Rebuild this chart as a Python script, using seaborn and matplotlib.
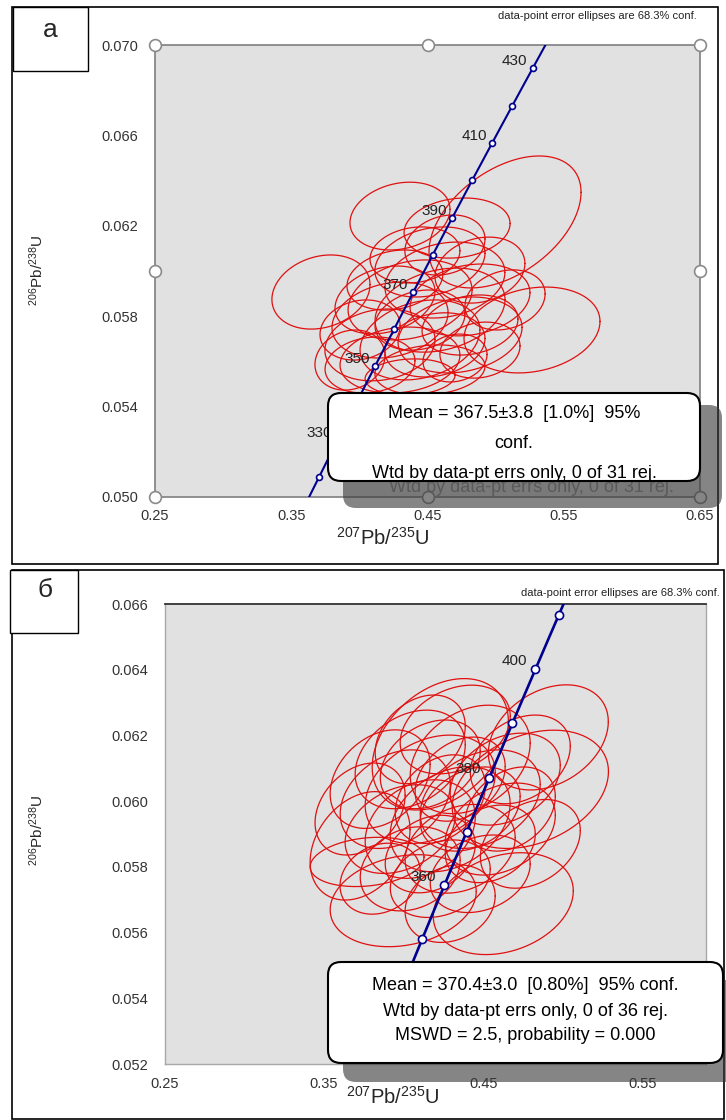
"""
Concordia plots (U-Pb) for two zircon samples, panels а and б.
"""
import numpy as np
import pandas as pd
import matplotlib
matplotlib.use("Agg")
import matplotlib.pyplot as plt
from matplotlib.patches import FancyBboxPatch, Rectangle
from matplotlib.ticker import FormatStrFormatter
import seaborn as sns

sns.set_style("white")
plt.rcParams["font.family"] = ["Liberation Sans", "DejaVu Sans"]

W, H = 726, 1120
RED = "#e01010"
NAVY = "#00008f"
BG = "#e1e1e1"

# decay constants, 1/yr
L238 = 1.55125e-10
L235 = 9.8485e-10

# ---------- panel а ----------
a_ages = [320, 330, 340, 350, 360, 370, 380, 390, 400, 410, 420, 430, 440]
a_age_labels = [330, 350, 370, 390, 410, 430]
a_xticks = [0.25, 0.35, 0.45, 0.55, 0.65]
a_yticks = [0.050, 0.054, 0.058, 0.062, 0.066, 0.070]
a_cx = [0.5069, 0.3718, 0.4298, 0.5267, 0.4717, 0.4518, 0.4628, 0.4372, 0.4225, 0.4592,
        0.4812, 0.4151, 0.4445, 0.4739, 0.4298, 0.4078, 0.4702, 0.4518, 0.4261, 0.4885,
        0.4005, 0.4408, 0.4812, 0.4188, 0.4555, 0.4372, 0.5069, 0.3931, 0.4628, 0.4885, 0.4445]
a_cy = [0.06217, 0.05907, 0.06243, 0.05739, 0.06190, 0.06040, 0.05960, 0.05872, 0.05783, 0.05827,
        0.05872, 0.05673, 0.05695, 0.05717, 0.05606, 0.05584, 0.05615, 0.05562, 0.05960, 0.06004,
        0.05739, 0.06071, 0.05761, 0.05872, 0.05673, 0.05531, 0.05872, 0.05606, 0.06115, 0.05650, 0.05783]
a_sx = [0.0558, 0.0360, 0.0367, 0.0499, 0.0389, 0.0404, 0.0440, 0.0455, 0.0426, 0.0477,
        0.0440, 0.0404, 0.0440, 0.0455, 0.0440, 0.0330, 0.0235, 0.0404, 0.0352, 0.0330,
        0.0294, 0.0330, 0.0352, 0.0367, 0.0367, 0.0330, 0.0294, 0.0257, 0.0294, 0.0294, 0.0330]
a_sy = [0.00292, 0.00164, 0.00150, 0.00190, 0.00133, 0.00155, 0.00168, 0.00177, 0.00168, 0.00186,
        0.00159, 0.00159, 0.00177, 0.00168, 0.00146, 0.00124, 0.00106, 0.00111, 0.00133, 0.00146,
        0.00133, 0.00124, 0.00133, 0.00150, 0.00142, 0.00080, 0.00133, 0.00133, 0.00133, 0.00124, 0.00133]
a_rho = [0.45, 0.2, 0.2, 0.2, 0.15, 0.25, 0.2, 0.25, 0.2, 0.25,
         0.2, 0.15, 0.25, 0.2, 0.15, 0.15, 0.15, 0.15, 0.2, 0.2,
         0.15, 0.15, 0.2, 0.25, 0.2, 0.1, 0.2, 0.15, 0.2, 0.15, 0.2]
a_box = ["Mean = 367.5±3.8  [1.0%]  95%", "conf.", "Wtd by data-pt errs only, 0 of 31 rej."]

# ---------- panel б ----------
b_ages = [330, 340, 350, 360, 370, 380, 390, 400, 410, 420]
b_age_labels = [360, 380, 400]
b_xticks = [0.25, 0.35, 0.45, 0.55]
b_yticks = [0.052, 0.054, 0.056, 0.058, 0.060, 0.062, 0.064, 0.066]
b_cx = [0.4230, 0.4909, 0.4796, 0.3726, 0.3997, 0.4626, 0.3770, 0.4041, 0.4418, 0.4167,
        0.4481, 0.3947, 0.4292, 0.4104, 0.4607, 0.3852, 0.4355, 0.4041, 0.4230, 0.4481,
        0.4733, 0.4324, 0.4638, 0.4167, 0.3978, 0.4418, 0.4230, 0.3726, 0.4796, 0.4292,
        0.4104, 0.4544, 0.3852, 0.4670, 0.4355, 0.4167]
b_cy = [0.06173, 0.06194, 0.06036, 0.05864, 0.05697, 0.05688, 0.05815, 0.06127, 0.06127, 0.06036,
        0.06006, 0.06006, 0.05945, 0.05915, 0.05915, 0.06067, 0.05855, 0.05794, 0.05764, 0.05779,
        0.06127, 0.06218, 0.06067, 0.06112, 0.05915, 0.05976, 0.06006, 0.05976, 0.05870, 0.05688,
        0.06188, 0.05870, 0.05764, 0.05976, 0.06067, 0.05839]
b_sx = [0.0428, 0.0377, 0.0491, 0.0314, 0.0459, 0.0440, 0.0358, 0.0346, 0.0377, 0.0409,
        0.0377, 0.0346, 0.0377, 0.0346, 0.0346, 0.0314, 0.0346, 0.0314, 0.0314, 0.0314,
        0.0314, 0.0346, 0.0346, 0.0314, 0.0346, 0.0314, 0.0283, 0.0283, 0.0314, 0.0283,
        0.0283, 0.0283, 0.0252, 0.0283, 0.0283, 0.0283]
b_sy = [0.00200, 0.00160, 0.00180, 0.00165, 0.00140, 0.00155, 0.00075, 0.00150, 0.00165, 0.00165,
        0.00150, 0.00150, 0.00160, 0.00150, 0.00140, 0.00150, 0.00135, 0.00128, 0.00118, 0.00118,
        0.00135, 0.00135, 0.00140, 0.00135, 0.00135, 0.00128, 0.00135, 0.00140, 0.00135, 0.00118,
        0.00135, 0.00118, 0.00108, 0.00128, 0.00128, 0.00118]
b_rho = [0.35, 0.3, 0.3, 0.3, 0.2, 0.25, 0.2, 0.3, 0.3, 0.3,
         0.3, 0.3, 0.3, 0.25, 0.3, 0.3, 0.25, 0.2, 0.25, 0.25,
         0.3, 0.3, 0.3, 0.3, 0.3, 0.3, 0.3, 0.3, 0.3, 0.2,
         0.3, 0.25, 0.2, 0.3, 0.3, 0.25]
b_box = ["Mean = 370.4±3.0  [0.80%]  95% conf.", "Wtd by data-pt errs only, 0 of 36 rej.",
         "MSWD = 2.5, probability = 0.000"]

XLAB = r"$\mathregular{^{207}Pb/^{235}U}$"
YLAB = r"$\mathregular{^{206}Pb/^{238}U}$"

fig = plt.figure(figsize=(W / 100, H / 100), dpi=100)
fig.patch.set_facecolor("white")
IN = fig.dpi_scale_trans


def pin(x, y):
    # image pixel -> inches from bottom-left
    return x / 100, (H - y) / 100


def ellipse_frame(cx, cy, sx, sy, rho):
    t = np.linspace(0, 2 * np.pi, 181)
    parts = []
    for i, (x0, y0, a, b, r) in enumerate(zip(cx, cy, sx, sy, rho)):
        ex = x0 + a * np.cos(t)
        ey = y0 + b * (r * np.cos(t) + np.sqrt(1 - r * r) * np.sin(t))
        parts.append(pd.DataFrame({"x": ex, "y": ey, "id": i}))
    return pd.concat(parts, ignore_index=True)


def concordia(ages_ma):
    t = np.asarray(ages_ma, dtype=float) * 1e6
    return np.exp(L235 * t) - 1, np.exp(L238 * t) - 1


def draw_panel(ax, cx, cy, sx, sy, rho, ages, age_labels, xticks, yticks,
               xlim, ylim, lw_c, ms, lab_off):
    ax.set_facecolor(BG)
    df = ellipse_frame(cx, cy, sx, sy, rho)
    sns.lineplot(data=df, x="x", y="y", units="id", estimator=None, sort=False,
                 color=RED, lw=0.9, ax=ax, legend=False)
    curve_x, curve_y = concordia(np.linspace(300, 470, 200))
    sns.lineplot(x=curve_x, y=curve_y, sort=False, estimator=None, color=NAVY,
                 lw=lw_c, ax=ax, zorder=3)
    mx, my = concordia(ages)
    sns.scatterplot(x=mx, y=my, s=ms, color="white", edgecolor=NAVY, linewidth=1.2,
                    ax=ax, zorder=4, clip_on=True)
    lx, ly = concordia(age_labels)
    for age, x, y in zip(age_labels, lx, ly):
        ax.annotate(str(age), (x, y), xytext=lab_off, textcoords="offset points",
                    ha="right", va="center", fontsize=11, color="#222222",
                    annotation_clip=True, zorder=5)
    ax.set_xlim(*xlim)
    ax.set_ylim(*ylim)
    ax.set_xticks(xticks)
    ax.set_yticks(yticks)
    ax.set_xticks([v + 0.05 for v in xticks if v + 0.05 < xlim[1]], minor=True)
    ax.xaxis.set_major_formatter(FormatStrFormatter("%.2f"))
    ax.yaxis.set_major_formatter(FormatStrFormatter("%.3f"))
    ax.set_xlabel("")
    ax.set_ylabel("")
    ax.tick_params(which="both", direction="in", length=3, width=0.8, color="#888888",
                   labelsize=10.5, labelcolor="#333333")
    ax.tick_params(axis="y", pad=12)
    ax.tick_params(axis="x", pad=9)


# panel а axes
ax_a = fig.add_axes([155 / W, 1 - 497 / H, 545 / W, 452 / H])
draw_panel(ax_a, a_cx, a_cy, a_sx, a_sy, a_rho, a_ages, a_age_labels, a_xticks, a_yticks,
           (0.25, 0.65), (0.050, 0.070), 1.5, 18, (-4, 5))
ax_a.set_yticks(np.arange(0.050, 0.0701, 0.002), minor=True)
for s in ax_a.spines.values():
    s.set_color("#7f7f7f")
    s.set_linewidth(1.2)
# selection handles of the plot area
for hx, hy in [(0, 0), (0.5, 0), (1, 0), (0, 0.5), (1, 0.5), (0, 1), (0.5, 1), (1, 1)]:
    ax_a.plot(hx, hy, "o", transform=ax_a.transAxes, ms=8.5, mfc="white",
              mec="#8a8a8a", mew=1.2, clip_on=False, zorder=6)

# panel б axes
ax_b = fig.add_axes([165 / W, 1 - 1064 / H, 541 / W, 460 / H])
draw_panel(ax_b, b_cx, b_cy, b_sx, b_sy, b_rho, b_ages, b_age_labels, b_xticks, b_yticks,
           (0.25, 0.59), (0.052, 0.066), 1.9, 34, (-6, 6))
ax_b.set_yticks(np.arange(0.052, 0.0661, 0.001), minor=True)
for name, s in ax_b.spines.items():
    s.set_color("#333333" if name == "top" else "#a8a8a8")
    s.set_linewidth(1.3 if name == "top" else 1.0)

# outer frames and panel letters
fig.add_artist(Rectangle(pin(12, 564), 7.06, 5.57, transform=IN, fill=False,
                         ec="black", lw=1.2))
fig.add_artist(Rectangle(pin(12, 1119), 7.12, 5.49, transform=IN, fill=False,
                         ec="black", lw=1.2))
fig.add_artist(Rectangle(pin(13, 71), 0.75, 0.64, transform=IN, fc="white",
                         ec="black", lw=1.0))
fig.add_artist(Rectangle(pin(10, 633), 0.68, 0.63, transform=IN, fc="white",
                         ec="black", lw=1.0))
fig.text(*pin(50, 30), "а", transform=IN, fontsize=19, ha="center", va="center")
fig.text(*pin(45, 590), "б", transform=IN, fontsize=19, ha="center", va="center")

# axis titles
fig.text(*pin(383, 538), XLAB, transform=IN, fontsize=14.5, ha="center", va="center")
fig.text(*pin(37, 270), YLAB, transform=IN, fontsize=11, rotation=90,
         ha="center", va="center")
fig.text(*pin(393, 1097), XLAB, transform=IN, fontsize=14.5, ha="center", va="center")
fig.text(*pin(37, 830), YLAB, transform=IN, fontsize=11, rotation=90,
         ha="center", va="center")

# conf. notes
fig.text(*pin(697, 16), "data-point error ellipses are 68.3% conf.", transform=IN,
         fontsize=8, ha="right", va="center", color="#222222")
fig.text(*pin(720, 593), "data-point error ellipses are 68.3% conf.", transform=IN,
         fontsize=8, ha="right", va="center", color="#222222")


def mean_box(x0, y0, x1, y1, lines, line_y, shadow, ghost=None):
    sx0, sy0, sx1, sy1 = shadow
    sh = FancyBboxPatch(pin(sx0, sy1), (sx1 - sx0) / 100, (sy1 - sy0) / 100,
                        boxstyle="round,pad=0,rounding_size=0.13", transform=IN,
                        fc="#3a3a3a", ec="none", alpha=0.62, zorder=10)
    fig.add_artist(sh)
    if ghost is not None:
        gt = fig.text(*pin(ghost[1], ghost[2]), ghost[0], transform=IN, fontsize=13,
                      ha="center", va="center", color="#5a5a5a", zorder=11)
        gt.set_clip_path(sh)
    box = FancyBboxPatch(pin(x0, y1), (x1 - x0) / 100, (y1 - y0) / 100,
                         boxstyle="round,pad=0,rounding_size=0.13", transform=IN,
                         fc="white", ec="black", lw=1.5, zorder=12)
    fig.add_artist(box)
    cxm = (x0 + x1) / 2
    for txt, ty in zip(lines, line_y):
        t = fig.text(*pin(cxm, ty), txt, transform=IN, fontsize=13, ha="center",
                     va="center", color="black", zorder=13)
        t.set_clip_path(box)


mean_box(328, 393, 700, 481, a_box, [414, 443, 473], (343, 405, 722, 508),
         ghost=(a_box[2], 531, 487))
mean_box(328, 962, 723, 1063, b_box, [986, 1011, 1035], (343, 980, 745, 1082))

fig.savefig("out.png", dpi=100)
